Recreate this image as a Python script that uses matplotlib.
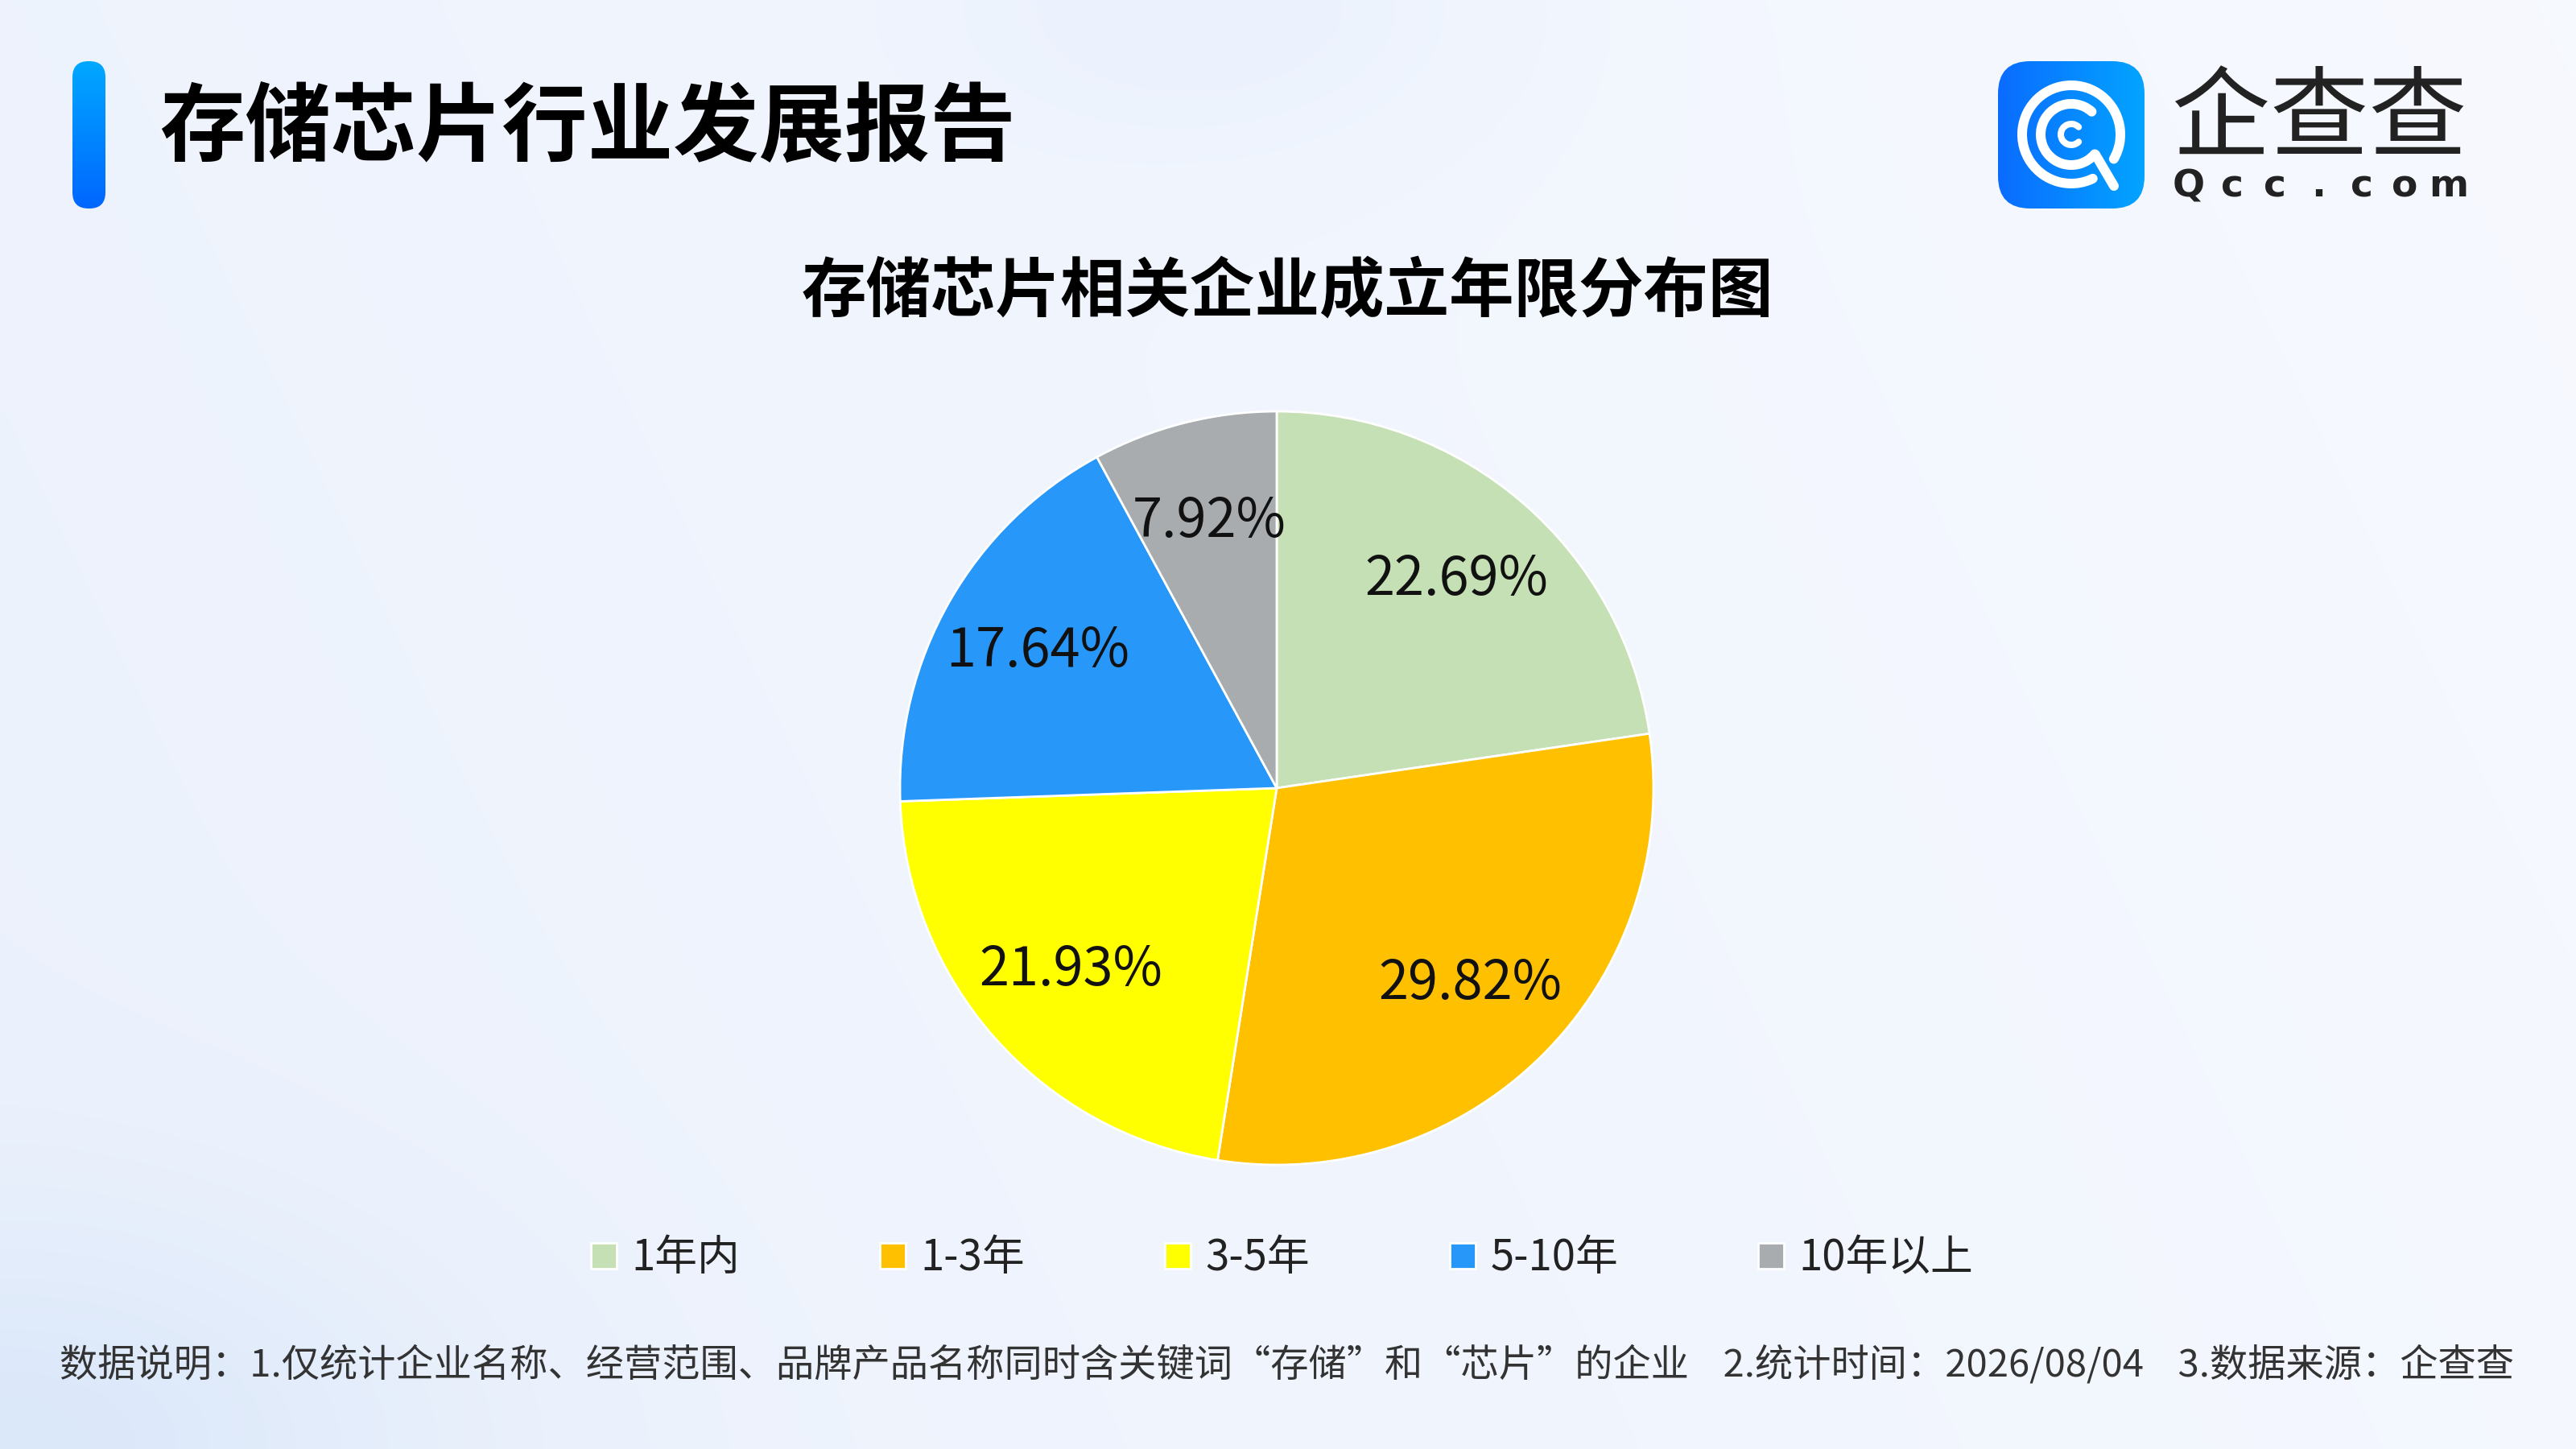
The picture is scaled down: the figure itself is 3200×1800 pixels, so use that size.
import matplotlib.pyplot as plt
import numpy as np
from matplotlib.lines import Line2D
from matplotlib.patches import Arc, FancyBboxPatch

plt.rcParams["font.family"] = ["Noto Sans CJK SC", "DejaVu Sans"]

# Data
categories = ["1年内", "1-3年", "3-5年", "5-10年", "10年以上"]
shares = [22.69, 29.82, 21.93, 17.64, 7.92]
colors = ["#C5E0B4", "#FFC000", "#FFFF00", "#2897FA", "#A8ACAF"]

title = "存储芯片行业发展报告"
chart_title = "存储芯片相关企业成立年限分布图"
note = ("数据说明：1.仅统计企业名称、经营范围、品牌产品名称同时含关键词“存储”和“芯片”的企业"
        "    2.统计时间：2026/08/04    3.数据来源：企查查")

W, H = 3200, 1800
fig = plt.figure(figsize=(16, 9), dpi=200)

## Background
bg = fig.add_axes([0, 0, 1, 1], zorder=-10)
yy, xx = np.mgrid[0:1:180j, 0:1:320j]
base = np.array([0.925, 0.948, 0.99])
white = np.array([0.972, 0.98, 1.0])
w = np.clip(0.15 + 0.75 * xx - 0.2 * yy, 0, 1)[..., None]
img = base * (1 - w) + white * w
blob = np.exp(-((xx / 0.16) ** 2 + ((1 - yy) / 0.16) ** 2))[..., None]
img = img * (1 - blob) + np.array([0.86, 0.91, 0.98]) * blob
blob2 = np.exp(-(((xx - 0.47) / 0.12) ** 2 + (yy / 0.12) ** 2))[..., None]
img = img * (1 - 0.5 * blob2) + np.array([0.90, 0.935, 0.99]) * 0.5 * blob2
bg.imshow(img, extent=[0, 1, 0, 1], aspect="auto", interpolation="bilinear")
bg.axis("off")

## Overlay in pixel coordinates (y from top)
ov = fig.add_axes([0, 0, 1, 1], zorder=5)
ov.set_xlim(0, W)
ov.set_ylim(0, H)
ov.axis("off")


def Y(y):
    return H - y


def gradient_box(x0, y0, x1, y1, c0, c1, radius, horizontal):
    g = np.linspace(0, 1, 100)
    c0 = np.array(plt.matplotlib.colors.to_rgb(c0))
    c1 = np.array(plt.matplotlib.colors.to_rgb(c1))
    row = c0 * (1 - g[:, None]) + c1 * g[:, None]
    arr = row[None, :, :] if horizontal else row[:, None, :]
    box = FancyBboxPatch((x0, Y(y1)), x1 - x0, y1 - y0,
                         boxstyle=f"round,pad=0,rounding_size={radius}",
                         facecolor="none", edgecolor="none")
    ov.add_patch(box)
    im = ov.imshow(arr, extent=[x0, x1, Y(y1), Y(y0)], aspect="auto",
                   interpolation="bilinear", zorder=2)
    im.set_clip_path(box)


# Blue bar next to title
gradient_box(90, 76, 131, 259, "#00A8FF", "#0066FF", 20, horizontal=False)
fig.text(198 / W, 1 - 160 / H, title, ha="left", va="center",
         fontsize=38.3, fontweight="bold", color="#000000")

# Logo
gradient_box(2482, 76, 2664, 259, "#0A6CFF", "#03A4FF", 40, horizontal=True)
cx, cy = 2573, 167
lw = 12 * 72 / 200
ov.add_artist(Arc((cx, Y(cy)), 122, 122, theta1=-30, theta2=296,
                  color="white", lw=lw, capstyle="round", zorder=3))
ov.add_artist(Arc((cx, Y(cy)), 76, 76, theta1=48, theta2=320,
                  color="white", lw=lw, capstyle="round", zorder=3))
ov.add_artist(Arc((cx, Y(cy)), 26, 26, theta1=45, theta2=315,
                  color="white", lw=8 * 72 / 200, capstyle="round", zorder=3))
ov.plot([2603, 2626], [Y(192), Y(231)], color="white", lw=lw,
        solid_capstyle="round", zorder=3)
ov.text(2881, Y(151), "企查查", ha="center", va="center", fontsize=44,
        color="#222222", zorder=3)
for i, ch in enumerate("Qcc.com"):
    ov.text(2719 + i * 53.7, Y(232), ch, ha="center", va="center",
            fontsize=17, fontweight="bold", color="#222222",
            family="DejaVu Sans", zorder=3)

## Chart title
fig.text(1599 / W, 1 - 363 / H, chart_title, ha="center", va="center",
         fontsize=29, fontweight="bold", color="#000000")

## Pie
pcx, pcy, r = 1586, 979, 468
ax = fig.add_axes([(pcx - r) / W, (H - pcy - r) / H, 2 * r / W, 2 * r / H])
wedges, texts, autotexts = ax.pie(
    shares,
    colors=colors,
    startangle=90,
    counterclock=False,
    autopct=lambda p: f"{p:.2f}%",
    pctdistance=0.73,
    wedgeprops={"edgecolor": "white", "linewidth": 1.0},
    textprops={"fontsize": 24, "color": "#111111"},
)
ax.set_xlim(-1, 1)
ax.set_ylim(-1, 1)
ax.set_aspect("equal")

## Legend
handles = [
    Line2D([], [], marker="s", linestyle="none", markersize=11.5,
           markerfacecolor=c, markeredgecolor="white", markeredgewidth=1.0)
    for c in colors
]
fig.legend(handles, categories, loc="center", ncol=5, frameon=False,
           bbox_to_anchor=(1593 / W, 1 - 1563 / H), fontsize=19,
           handlelength=0.6, handletextpad=0.35, columnspacing=3.3,
           labelcolor="#222222")

## Footnote
fig.text(0.4995, 1 - 1696 / H, note, ha="center", va="center",
         fontsize=17, color="#333333")

fig.savefig("out.png", dpi=200)
